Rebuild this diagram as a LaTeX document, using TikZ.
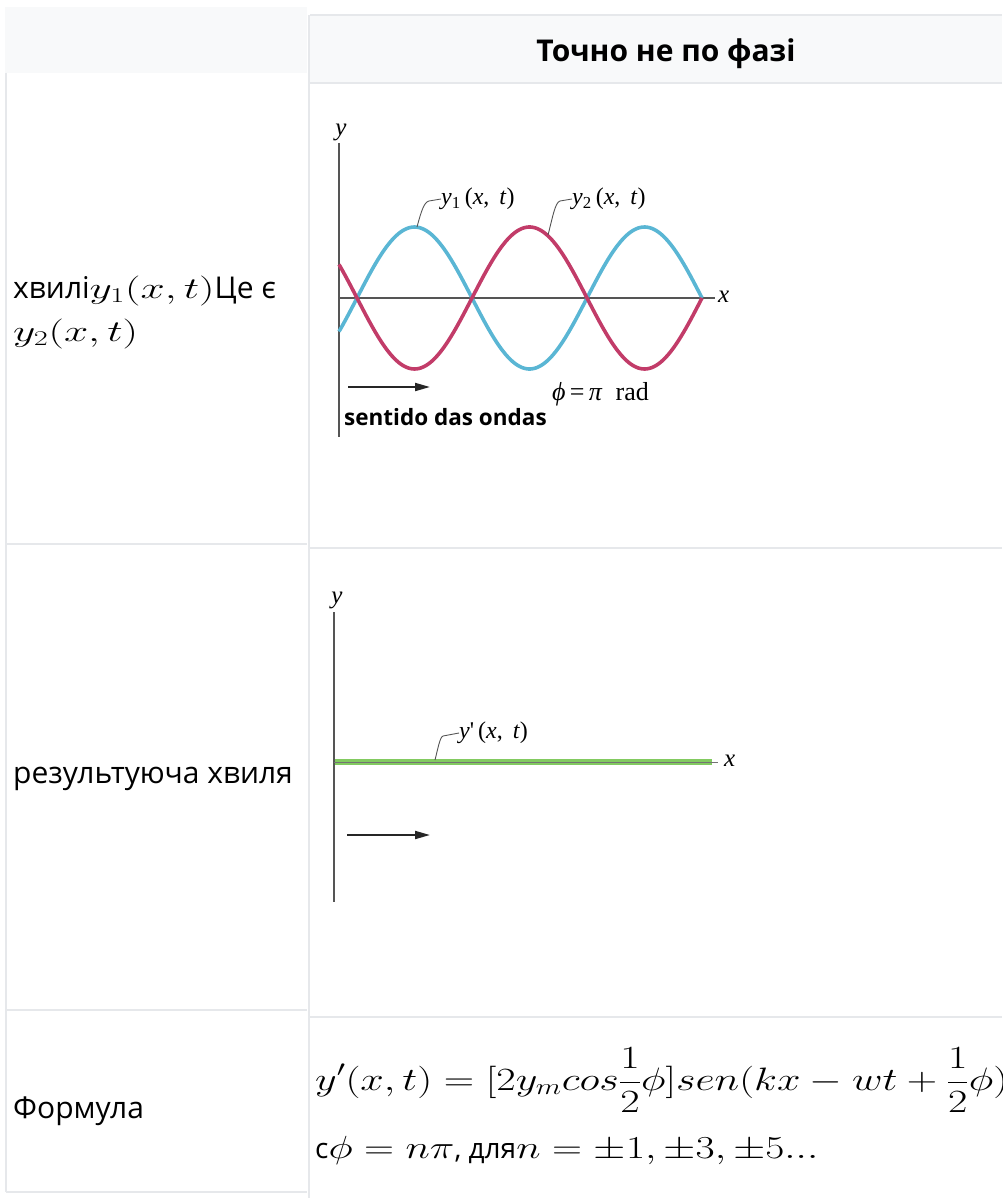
\RequirePackage{fix-cm}
\documentclass[tikz,border=0pt]{standalone}
\usepackage{graphicx}
\usepackage{fontspec}
\newfontfamily\osans{Open Sans}
\newfontfamily\tms{Liberation Serif}
\usetikzlibrary{arrows.meta}
\definecolor{hdrfill}{HTML}{F8F9FA}
\definecolor{gridc}{HTML}{E6E8EB}
\definecolor{wblue}{HTML}{5AB6D4}
\definecolor{wred}{HTML}{C23C69}
\definecolor{wgreen}{HTML}{82CA60}
\definecolor{axisc}{HTML}{555555}
\newcommand{\wmath}[1]{\scalebox{1.45}[1]{$#1$}}
\newcommand{\fmath}[1]{\scalebox{1.3}[1]{$\displaystyle #1$}}
\begin{document}
\begin{tikzpicture}[x=1pt,y=-1pt,
  gridline/.style={draw=gridc,line width=1.5pt},
  rowtext/.style={inner sep=0pt,anchor=base west,font=\osans\fontsize{30}{36}\selectfont},
  axisline/.style={draw=axisc,line width=1.3pt},
  axlabel/.style={inner sep=0pt,font=\tms\itshape\fontsize{25}{28}\selectfont},
  wlabel/.style={inner sep=0pt,anchor=west,font=\tms\fontsize{24}{27}\selectfont},
  leader/.style={draw=axisc,line width=0.9pt},
  wave/.style={line width=3.6pt},
  dirarrow/.style={draw=black!85,line width=2pt,-{Triangle[length=15pt,width=8pt]}}
]
\useasboundingbox (0,0) rectangle (1002,1198);
\clip (0,0) rectangle (1002,1198);
% table
\fill[hdrfill] (5,7) rectangle (307,73);
\fill[hdrfill] (310,15) rectangle (1002,83);
\draw[gridline] (310,15) -- (1002,15);
\draw[gridline] (310,83) -- (1002,83);
\draw[gridline] (6,73) -- (6,1192);
\draw[gridline] (309,15) -- (309,1198);
\draw[gridline] (6,544) -- (307,544);
\draw[gridline] (6,1010) -- (307,1010);
\draw[gridline] (6,1192) -- (307,1192);
\draw[gridline] (310,548) -- (1002,548);
\draw[gridline] (310,1017) -- (1002,1017);
% header
\node[anchor=base,inner sep=0pt,font=\osans\bfseries\fontsize{30}{36}\selectfont] (hdr) at (666,62) {Точно не по фазі};
% left column
\node[rowtext] (r1a) at (13,298) {хвилі\wmath{y_1(x,t)}Це є};
\node[rowtext] (r1b) at (13,341) {\wmath{y_2(x,t)}};
\node[rowtext] (r2) at (13,783) {результуюча хвиля};
\node[rowtext] (r3) at (13,1118) {Формула};
% plot 1
\coordinate (ya0) at (339,143);
\coordinate (ya1) at (339,437);
\coordinate (xa0) at (339,298);
\coordinate (xa1) at (715,298);
\draw[axisline] (ya0) -- (ya1);
\draw[axisline] (xa0) -- (xa1);
\node[axlabel,anchor=south] (ylab1) at (341,141) {y};
\node[axlabel,anchor=west] (xlab1) at (718,297) {x};
\draw[wave,wblue] plot[domain=339:702,samples=160] (\x,{298-71*sin(1.565217*(\x-357))});
\draw[wave,wred] plot[domain=339:702,samples=160] (\x,{298+71*sin(1.565217*(\x-357))});
\node[wlabel] (l1) at (441,199) {\textit{y}\textsubscript{1}\,(\textit{x}, \,\textit{t})};
\node[wlabel] (l2) at (572,199) {\textit{y}\textsubscript{2}\,(\textit{x}, \,\textit{t})};
\coordinate (c1) at (417,227);
\coordinate (k1) at (429,201);
\coordinate (c2) at (548,235);
\coordinate (k2) at (560,201);
\draw[leader] (c1) .. controls (421,212) and (424,202) .. (k1) -- (l1.west);
\draw[leader] (c2) .. controls (552,220) and (555,202) .. (k2) -- (l2.west);
\node[anchor=base west,inner sep=0pt,font=\tms\fontsize{26}{28}\selectfont] (phi) at (552,400) {\textit{ϕ}\,=\,\textit{π}\enspace rad};
\coordinate (a1s) at (348,387);
\coordinate (a1e) at (430,387);
\draw[dirarrow] (a1s) -- (a1e);
\node[anchor=base west,inner sep=0pt,font=\osans\bfseries\fontsize{22.5}{26}\selectfont] (sent) at (344,425) {sentido das ondas};
% plot 2
\coordinate (yb0) at (334,612);
\coordinate (yb1) at (334,902);
\coordinate (xb0) at (334,762);
\coordinate (xb1) at (718,762);
\coordinate (gr0) at (335,762);
\coordinate (gr1) at (712,762);
\draw[axisline] (yb0) -- (yb1);
\draw[wgreen,line width=6.5pt] (gr0) -- (gr1);
\draw[draw=black!55,line width=1pt] (xb0) -- (xb1);
\node[axlabel,anchor=south] (ylab2) at (337,609) {y};
\node[axlabel,anchor=west] (xlab2) at (724,761) {x};
\node[wlabel] (l3) at (459,733) {\textit{y}'\,(\textit{x}, \,\textit{t})};
\coordinate (c3) at (435,760);
\coordinate (k3) at (443,736);
\draw[leader] (c3) .. controls (438,748) and (440,737) .. (k3) -- (l3.west);
\coordinate (a2s) at (347,835);
\coordinate (a2e) at (430,835);
\draw[dirarrow] (a2s) -- (a2e);
% formula
\node[anchor=base west,inner sep=0pt,font=\fontsize{32.4}{38}\selectfont] (f1) at (315,1090)
  {\fmath{y'(x,t) = [2y_m cos\frac{1}{2}\phi] sen(kx - wt + \frac{1}{2}\phi)}};
\node[anchor=base west,inner sep=0pt,font=\fontsize{32}{38}\selectfont] (f2) at (315,1158)
  {{\osans\fontsize{28}{34}\selectfont с}\fmath{\phi = n\pi}{\osans\fontsize{28}{34}\selectfont, для}\fmath{n = \pm1, \pm3, \pm5...}};
\end{tikzpicture}
\end{document}
